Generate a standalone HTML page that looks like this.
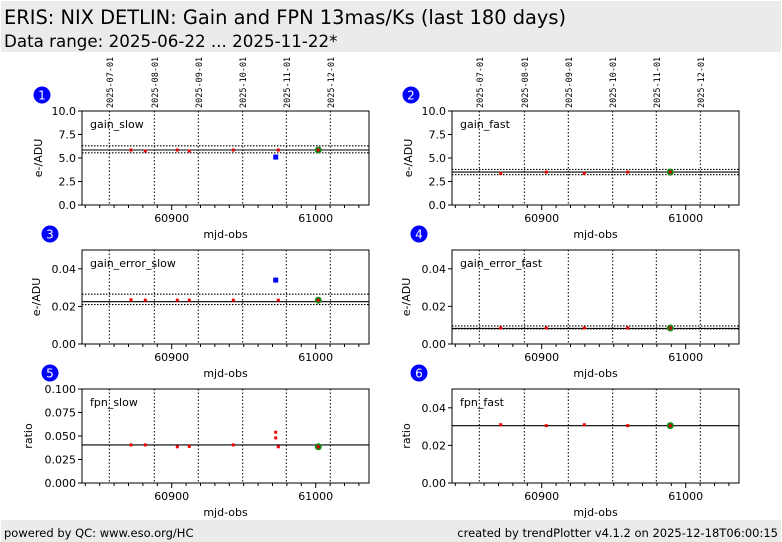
<!DOCTYPE html>
<html><head><meta charset="utf-8"><style>
body{margin:0;width:782px;height:542px;background:#fff;overflow:hidden;font-family:"DejaVu Sans","Liberation Sans",sans-serif}
svg{position:absolute;left:0;top:0}
</style></head><body>
<svg id="s" width="782" height="542" xmlns="http://www.w3.org/2000/svg" font-family="DejaVu Sans, Liberation Sans, sans-serif">
<rect x="1" y="1" width="780" height="51" fill="#ebebeb"/>
<text x="4" y="24" font-size="19.4">ERIS: NIX DETLIN: Gain and FPN 13mas/Ks (last 180 days)</text>
<text x="4" y="47" font-size="16.7">Data range: 2025-06-22 ... 2025-11-22*</text>
<rect x="1" y="520" width="780" height="22" fill="#ebebeb"/>
<text x="4" y="537" font-size="11.5">powered by QC: www.eso.org/HC</text>
<text x="778" y="537" font-size="11.5" text-anchor="end">created by trendPlotter v4.1.2 on 2025-12-18T06:00:15</text>
</svg>
<script>
const s=document.getElementById('s');let h='';
const panels=[
 {x0:82,y0:111,name:'gain_slow',n:1,ymax:10,ticks:[[0,'0.0'],[2.5,'2.5'],[5,'5.0'],[7.5,'7.5'],[10,'10.0']],yl:'e-/ADU',top:true,
  lines:[[5.85,0],[6.3,1],[5.55,1]],
  red:[[131,5.85],[145.3,5.75],[177.3,5.85],[189.3,5.75],[233.3,5.85],[278.3,5.85]],blue:[[275.7,5.1]],green:[318.3,5.85]},
 {x0:452,y0:111,name:'gain_fast',n:2,ymax:10,ticks:[[0,'0.0'],[2.5,'2.5'],[5,'5.0'],[7.5,'7.5'],[10,'10.0']],yl:'e-/ADU',top:true,
  lines:[[3.5,0],[3.78,1],[3.22,1]],
  red:[[500.7,3.35],[546.3,3.5],[584.3,3.35],[627.7,3.5]],blue:[],green:[670.3,3.5]},
 {x0:82,y0:250,name:'gain_error_slow',n:3,ymax:0.05,ticks:[[0,'0.00'],[0.02,'0.02'],[0.04,'0.04']],yl:'e-/ADU',
  lines:[[0.0225,0],[0.0265,1],[0.0210,1]],
  red:[[131,0.0235],[145.3,0.0233],[177.3,0.0233],[189.3,0.0233],[233.3,0.0233],[278.3,0.0233]],blue:[[275.7,0.034]],green:[318.3,0.0233]},
 {x0:452,y0:250,name:'gain_error_fast',n:4,ymax:0.05,ticks:[[0,'0.00'],[0.02,'0.02'],[0.04,'0.04']],yl:'e-/ADU',
  lines:[[0.0083,0],[0.0096,1],[0.0080,1]],
  red:[[500.7,0.0085],[546.3,0.0085],[584.3,0.0085],[627.7,0.0085]],blue:[],green:[670.3,0.0085]},
 {x0:82,y0:389,name:'fpn_slow',n:5,ymax:0.1,ticks:[[0,'0.000'],[0.025,'0.025'],[0.05,'0.050'],[0.075,'0.075'],[0.1,'0.100']],yl:'ratio',
  lines:[[0.0405,0]],
  red:[[131,0.0405],[145.3,0.0405],[177.3,0.0385],[189.3,0.039],[233.3,0.0405],[275.7,0.054],[275.7,0.048],[278.3,0.0385]],blue:[],green:[318.3,0.0385]},
 {x0:452,y0:389,name:'fpn_fast',n:6,ymax:0.05,ticks:[[0,'0.00'],[0.02,'0.02'],[0.04,'0.04']],yl:'ratio',
  lines:[[0.0305,0]],
  red:[[500.7,0.031],[546.3,0.0305],[584.3,0.031],[627.7,0.0305]],blue:[],green:[670.3,0.0305]},
];
const dates=['2025-07-01','2025-08-01','2025-09-01','2025-10-01','2025-11-01','2025-12-01'];
const dl=[109.3,154.3,198.3,242.7,286.3,330.3];
for(const p of panels){
 const W=287,H=94,off=p.x0-82;
 const Y=v=>p.y0+H-v/p.ymax*H;
 dl.forEach(d=>h+=`<line x1="${d+off}" y1="${p.y0}" x2="${d+off}" y2="${p.y0+H}" stroke="#000" stroke-width="1" stroke-dasharray="1.5,2"/>`);
 for(const [v,d] of p.lines){h+=`<line x1="${p.x0}" x2="${p.x0+W}" y1="${Y(v)}" y2="${Y(v)}" stroke="#000" stroke-width="1.1" ${d?'stroke-dasharray="1.5,1.5"':''}/>`}
 p.red.forEach(([x,v])=>h+=`<rect x="${x-1.5}" y="${Y(v)-1.5}" width="3" height="3" fill="#e00"/>`);
 p.blue.forEach(([x,v])=>h+=`<rect x="${x-2.5}" y="${Y(v)-2.5}" width="5" height="5" fill="#00f"/>`);
 const [gx,gv]=p.green;h+=`<circle cx="${gx}" cy="${Y(gv)}" r="3.5" fill="#1a8a1a"/><rect x="${gx-1.5}" y="${Y(gv)-1.5}" width="3" height="3" fill="#c00"/>`;
 h+=`<rect x="${p.x0}" y="${p.y0}" width="${W}" height="${H}" fill="none" stroke="#000" stroke-width="1"/>`;
 for(let m=60840;m<=61030;m+=10){const x=171.7+off+(m-60900)*1.44;const maj=m%100==0;h+=`<line x1="${x}" x2="${x}" y1="${p.y0+H}" y2="${p.y0+H+(maj?5:3)}" stroke="#000"/>`;if(maj)h+=`<text x="${x}" y="${p.y0+H+17}" font-size="11" text-anchor="middle">${m}</text>`}
 h+=`<text x="${p.x0+W/2}" y="${p.y0+H+33}" font-size="11" text-anchor="middle">mjd-obs</text>`;
 for(const [v,t] of p.ticks){const y=Y(v);h+=`<line x1="${p.x0-4}" x2="${p.x0}" y1="${y}" y2="${y}" stroke="#000"/><text x="${p.x0-6}" y="${y+4}" font-size="11" text-anchor="end">${t}</text>`}
 const ylx=p.x0-(p.yl=='ratio'&&p.ymax==0.1?50:(p.ymax==10?40:42));
 h+=`<text transform="translate(${ylx},${p.y0+H/2}) rotate(-90)" font-size="11" text-anchor="middle">${p.yl}</text>`;
 h+=`<text x="${p.x0+8}" y="${p.y0+17}" font-size="11">${p.name}</text>`;
 const cy=p.y0-16, bx=p.n%2?(p.n==1?42:50):(p.n==2?411:419);
 h+=`<circle cx="${bx}" cy="${cy}" r="8.5" fill="#00f"/><text x="${bx}" y="${cy+4.5}" font-size="12" fill="#fff" text-anchor="middle">${p.n}</text>`;
 if(p.top)dl.forEach((d,i)=>h+=`<text transform="translate(${d+off+3.5},${p.y0-3}) rotate(-90)" font-size="8.5" font-family="DejaVu Sans Mono, Liberation Mono, monospace">${dates[i]}</text>`);
}
s.insertAdjacentHTML('beforeend',h);
</script>
</body></html>
